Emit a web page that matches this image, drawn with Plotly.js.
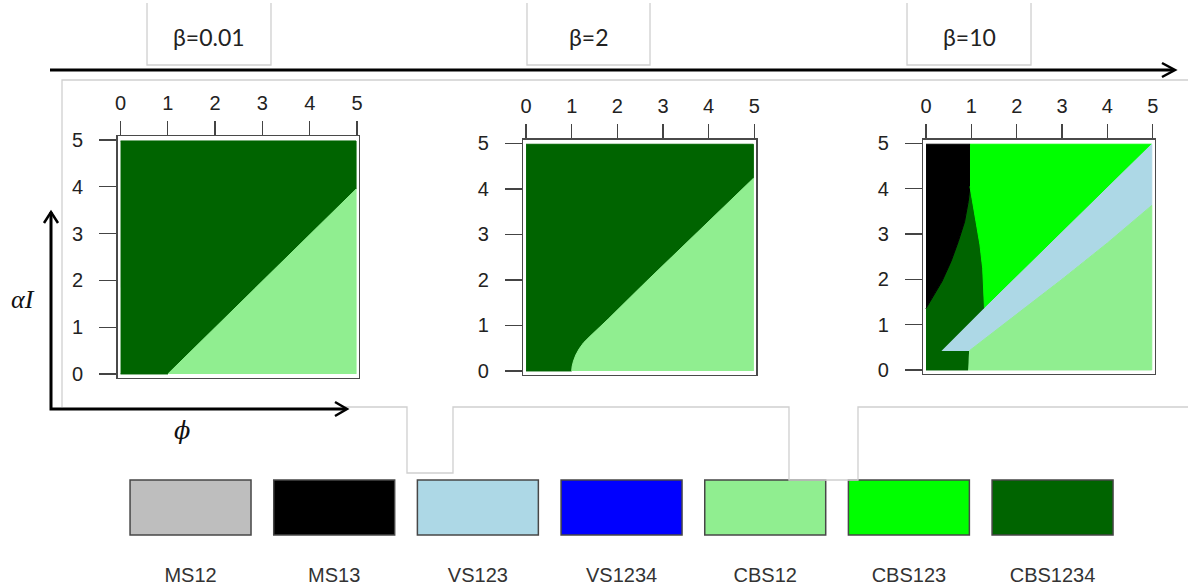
<!DOCTYPE html>
<html><head><meta charset="utf-8">
<script src="https://cdn.plot.ly/plotly-3.0.1.min.js"></script>
<style>html,body{margin:0;padding:0;background:#fff;} #chart{width:1188px;height:588px;}</style>
</head><body><div id="chart"></div>
<script>
const W = 1188, H = 588;

// ---------- data ----------
const betaLabels = ['β=0.01', 'β=2', 'β=10'];
const tickVals = [0, 1, 2, 3, 4, 5];
const tickText = ['0', '1', '2', '3', '4', '5'];
const regimeNames = ['MS12', 'MS13', 'VS123', 'VS1234', 'CBS12', 'CBS123', 'CBS1234'];
const regimeColors = ['#bebebe', '#000000', '#add8e6', '#0000ff', '#90ee90', '#00ff00', '#006400'];
const legendHeight = [1, 1, 1, 1, 1, 1, 1];
const edge = 4.98;

// panel 1 (beta = 0.01): CBS1234 / CBS12 boundary
const p1BoundaryPhi = [1.0, 4.98];
const p1BoundaryAI  = [0.0, 3.95];

// panel 2 (beta = 2): CBS1234 / CBS12 boundary
const p2BoundaryPhi = [1.0, 1.01, 1.04, 1.09, 1.16, 1.26, 1.40, 1.58, 1.80, 2.64, 3.74, 4.98];
const p2BoundaryAI  = [0.0, 0.10, 0.22, 0.35, 0.48, 0.62, 0.76, 0.93, 1.14, 1.97, 3.04, 4.23];

// panel 3 (beta = 10)
const p3Ms13EdgePhi   = [0.00, 0.125, 0.35, 0.55, 0.71, 0.85, 0.93, 0.97];
const p3Ms13EdgeAI    = [1.36, 1.58, 1.95, 2.39, 2.83, 3.27, 3.71, 4.05];
const p3Cbs123EdgePhi = [0.97, 1.02, 1.10, 1.19, 1.25, 1.27, 1.29];
const p3Cbs123EdgeAI  = [4.05, 3.71, 3.27, 2.76, 2.24, 1.80, 1.36];
const p3VsUpperPhi    = [0.35, 1.29, 4.98];
const p3VsUpperAI     = [0.42, 1.36, 4.98];
const p3VsLowerPhi    = [0.95, 2.0, 3.0, 4.0, 4.98];
const p3VsLowerAI     = [0.42, 1.22, 2.0, 2.8, 3.63];
const p3FootPhi       = [0.93, 0.95];
const p3FootAI        = [0.00, 0.42];

// ---------- build polygons ----------
const rev = a => a.slice().reverse();
const traces = [];
function region(xs, ys, color, ax) {
  traces.push({type: 'scatter', mode: 'lines', x: xs, y: ys, fill: 'toself',
    fillcolor: color, line: {color: color, width: 1}, hoverinfo: 'skip',
    showlegend: false, xaxis: 'x' + ax, yaxis: 'y' + ax});
}
const C = {}; regimeNames.forEach((n, i) => C[n] = regimeColors[i]);

// panel 1
region([0, ...p1BoundaryPhi, edge, 0], [0, ...p1BoundaryAI, edge, edge], C.CBS1234, '');
region([...p1BoundaryPhi, edge], [...p1BoundaryAI, 0], C.CBS12, '');
// panel 2
region([0, ...p2BoundaryPhi, edge, 0], [0, ...p2BoundaryAI, edge, edge], C.CBS1234, '2');
region([...p2BoundaryPhi, edge], [...p2BoundaryAI, 0], C.CBS12, '2');
// panel 3
region([0, ...p3FootPhi, p3VsUpperPhi[0], p3VsUpperPhi[1], ...rev(p3Cbs123EdgePhi).slice(1), ...rev(p3Ms13EdgePhi).slice(1)],
       [0, ...p3FootAI, p3VsUpperAI[0], p3VsUpperAI[1], ...rev(p3Cbs123EdgeAI).slice(1), ...rev(p3Ms13EdgeAI).slice(1)],
       C.CBS1234, '3');
region([...p3Ms13EdgePhi, p3Ms13EdgePhi[p3Ms13EdgePhi.length - 1], 0],
       [...p3Ms13EdgeAI, edge, edge], C.MS13, '3');
region([p3Cbs123EdgePhi[0], p3VsUpperPhi[2], p3VsUpperPhi[1], ...rev(p3Cbs123EdgePhi).slice(1)],
       [edge, p3VsUpperAI[2], p3VsUpperAI[1], ...rev(p3Cbs123EdgeAI).slice(1)], C.CBS123, '3');
region([...p3VsUpperPhi, edge, ...rev(p3VsLowerPhi).slice(1)],
       [...p3VsUpperAI, p3VsLowerAI[p3VsLowerAI.length - 1], ...rev(p3VsLowerAI).slice(1)], C.VS123, '3');
region([p3FootPhi[0], edge, ...rev(p3VsLowerPhi)],
       [0, 0, ...rev(p3VsLowerAI)], C.CBS12, '3');

// legend swatches
traces.push({type: 'bar', x: regimeNames, y: legendHeight, width: 0.842,
  marker: {color: regimeColors, line: {color: '#474747', width: 1.5}},
  hoverinfo: 'skip', showlegend: false, xaxis: 'x4', yaxis: 'y4'});

// ---------- layout helpers ----------
const fx = x => x / W, fy = y => 1 - y / H;
function panelAxes(left, right, top, bottom, anchor) {
  const common = {tickvals: tickVals, ticktext: tickText, ticks: 'outside',
    tickcolor: '#444', tickwidth: 1.3, showline: true, mirror: true, linecolor: '#4a4a4a',
    linewidth: 1.5, showgrid: false, zeroline: false, fixedrange: true,
    tickfont: {family: 'Liberation Sans, Arial, sans-serif', size: 20, color: '#222'}};
  const xa = Object.assign({}, common, {domain: [fx(left), fx(right)], range: [-0.06, 5.04],
    side: 'top', ticklen: 14, anchor: 'y' + anchor, ticklabelstandoff: 3});
  const ya = Object.assign({}, common, {domain: [fy(bottom), fy(top)], range: [-0.08, 5.08],
    ticklen: 17, anchor: 'x' + anchor, ticklabelstandoff: 12});
  return [xa, ya];
}
const [xa1, ya1] = panelAxes(117.7, 358.9, 136.3, 377.7, '');
const [xa2, ya2] = panelAxes(523.3, 756.1, 139.7, 374.6, '2');
const [xa3, ya3] = panelAxes(923.3, 1154.5, 139.7, 373.6, '3');

function P(pts) { // pixel points -> paper path
  return pts.map((p, i) => (i ? 'L' : 'M') + fx(p[0]).toFixed(5) + ',' + fy(p[1]).toFixed(5)).join(' ');
}
const gray = {color: '#cfcfcf', width: 1.3};
const black = {color: '#000', width: 3};
const shapes = [
  // gray frame behind panels
  {type: 'path', xref: 'paper', yref: 'paper', line: gray, path: P([[62, 407], [62, 80], [1188, 80]])},
  {type: 'path', xref: 'paper', yref: 'paper', line: gray,
    path: P([[345, 407], [407, 407], [407, 473], [453, 473], [453, 407], [789, 407], [789, 480], [858, 480], [858, 407], [1188, 407]])},
  // beta boxes
  {type: 'path', xref: 'paper', yref: 'paper', line: gray, path: P([[147, 3], [147, 65], [271, 65], [271, 3]])},
  {type: 'path', xref: 'paper', yref: 'paper', line: gray, path: P([[527, 3], [527, 65], [650, 65], [650, 3]])},
  {type: 'path', xref: 'paper', yref: 'paper', line: gray, path: P([[907, 3], [907, 65], [1031, 65], [1031, 3]])},
  // big beta arrow
  {type: 'path', xref: 'paper', yref: 'paper', line: black, path: P([[50, 70], [1174, 70]])},
  {type: 'path', xref: 'paper', yref: 'paper', line: {color: '#000', width: 2.5}, path: P([[1162, 63], [1175, 70], [1162, 77]])},
  // axis arrows
  {type: 'path', xref: 'paper', yref: 'paper', line: black, path: P([[51, 212], [51, 409], [346, 409]])},
  {type: 'path', xref: 'paper', yref: 'paper', line: {color: '#000', width: 2.5}, path: P([[44, 223], [51, 212], [58, 223]])},
  {type: 'path', xref: 'paper', yref: 'paper', line: {color: '#000', width: 2.5}, path: P([[335, 402], [347, 409], [335, 416]])}
];

const betaX = [209, 589, 969];
const annotations = betaLabels.map((t, i) => ({text: t, xref: 'paper', yref: 'paper',
  x: fx(betaX[i]), y: fy(37), xanchor: 'center', yanchor: 'middle', showarrow: false,
  font: {family: 'Lato, Liberation Sans, sans-serif', size: 23, color: '#222'}}));
annotations.push({text: '<i>αI</i>', xref: 'paper', yref: 'paper', x: fx(23), y: fy(299),
  xanchor: 'center', yanchor: 'middle', showarrow: false,
  font: {family: 'Liberation Serif, DejaVu Serif, serif', size: 26, color: '#111'}});
annotations.push({text: '<i>ϕ</i>', xref: 'paper', yref: 'paper', x: fx(182), y: fy(431),
  xanchor: 'center', yanchor: 'middle', showarrow: false,
  font: {family: 'DejaVu Serif, Liberation Serif, serif', size: 24, color: '#111'}});

const layout = {
  width: W, height: H, margin: {l: 0, r: 0, t: 0, b: 0},
  paper_bgcolor: '#fff', plot_bgcolor: 'rgba(0,0,0,0)', showlegend: false,
  font: {family: 'Liberation Sans, Arial, sans-serif'},
  xaxis: xa1, yaxis: ya1, xaxis2: xa2, yaxis2: ya2, xaxis3: xa3, yaxis3: ya3,
  xaxis4: {domain: [fx(118.7), fx(1124.4)], anchor: 'y4', type: 'category', ticks: '',
    showline: false, showgrid: false, zeroline: false, ticklabelstandoff: 25, fixedrange: true,
    tickfont: {family: 'Liberation Sans, Arial, sans-serif', size: 20, color: '#333'}},
  yaxis4: {domain: [fy(536), fy(479)], range: [-0.0175, 1.0175], visible: false, anchor: 'x4', fixedrange: true},
  shapes: shapes, annotations: annotations
};
Plotly.newPlot('chart', traces, layout, {staticPlot: true, displayModeBar: false});
</script></body></html>
